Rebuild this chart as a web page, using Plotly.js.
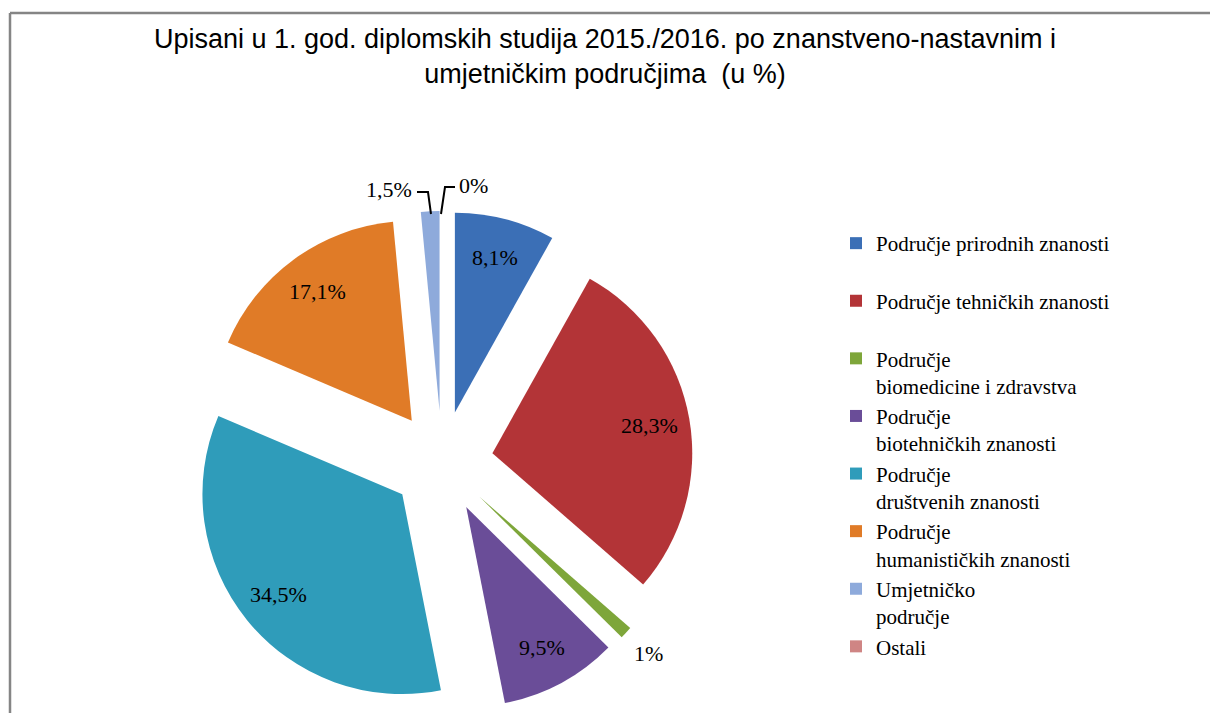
<!DOCTYPE html>
<html>
<head>
<meta charset="utf-8">
<script src="https://cdn.plot.ly/plotly-3.0.1.min.js"></script>
<style>
  html, body { margin: 0; padding: 0; background: #ffffff; overflow: hidden; }
  #chart { width: 1210px; height: 713px; }
</style>
</head>
<body>
<div id="chart"></div>
<script>
// ---- data ----
const categories = [
  "Područje prirodnih znanosti",
  "Područje tehničkih znanosti",
  "Područje<br>biomedicine i zdravstva",
  "Područje<br>biotehničkih znanosti",
  "Područje<br>društvenih znanosti",
  "Područje<br>humanističkih znanosti",
  "Umjetničko<br>područje",
  "Ostali"
];
const values = [8.1, 28.3, 1, 9.5, 34.5, 17.1, 1.5, 0];
const colors = ["#3b6fb6", "#b33437", "#7ea63a", "#6a4d98", "#2f9cba", "#e07b27", "#8eaadb", "#cf8584"];
const title = "Upisani u 1. god. diplomskih studija 2015./2016. po znanstveno-nastavnim i<br>umjetničkim područjima  (u %)";

// ---- derived ----
const labelText = values.map(v => String(v).replace('.', ',') + '%');
// every legend entry occupies two text lines, as in the original legend
const legendLabels = categories.map(l => l.includes('<br>') ? l : l + '<br> ');

const W = 1210, H = 713;
const px = x => x / W;
const py = y => 1 - y / H;
const PULL = 0.256;
const labelFont = { family: 'Liberation Serif, DejaVu Serif, serif', size: 22, color: '#000000' };

const trace = {
  type: 'pie',
  labels: legendLabels,
  values: values,
  text: labelText,
  textinfo: 'none',
  sort: false,
  direction: 'clockwise',
  rotation: 0,
  pull: values.map(() => PULL),
  marker: { colors: colors, line: { width: 0 } },
  domain: { x: [px(191), px(693)], y: [0, py(211)] },
  hoverinfo: 'label+text',
  showlegend: true
};

const baseShapes = [
  // chart frame (top and left edges)
  { type: 'line', xref: 'paper', yref: 'paper', x0: px(10), y0: py(13), x1: 1, y1: py(13), line: { color: '#858585', width: 2.5 } },
  { type: 'line', xref: 'paper', yref: 'paper', x0: px(10), y0: py(13), x1: px(10), y1: 0, line: { color: '#858585', width: 2.5 } },
  // leader lines for the two small labels at the top
  { type: 'path', xref: 'paper', yref: 'paper',
    path: `M ${px(417)} ${py(192)} L ${px(428)} ${py(192)} L ${px(431)} ${py(214)}`,
    line: { color: '#000000', width: 2 } },
  { type: 'path', xref: 'paper', yref: 'paper',
    path: `M ${px(455)} ${py(187)} L ${px(445)} ${py(187)} L ${px(441)} ${py(214)}`,
    line: { color: '#000000', width: 2 } }
];

const layout = {
  width: W,
  height: H,
  margin: { l: 0, r: 0, t: 0, b: 0 },
  paper_bgcolor: '#ffffff',
  title: {
    text: title,
    font: { family: 'Liberation Sans, Arial, sans-serif', size: 27, color: '#000000' },
    x: 0.5, xanchor: 'center',
    xref: 'paper',
    yref: 'container', y: py(48), yanchor: 'top'
  },
  legend: {
    x: px(836), xanchor: 'left',
    y: py(223), yanchor: 'top',
    valign: 'top',
    font: { family: 'Liberation Serif, DejaVu Serif, serif', size: 21, color: '#000000' },
    bgcolor: 'rgba(0,0,0,0)',
    traceorder: 'normal'
  },
  shapes: baseShapes
};

Plotly.newPlot('chart', [trace], layout, { displayModeBar: false }).then(gd => {
  const cd0 = gd.calcdata && gd.calcdata[0] && gd.calcdata[0][0];
  const cx = cd0 && cd0.cx ? cd0.cx : 442;
  const cy = cd0 && cd0.cy ? cd0.cy : 462;
  const r = cd0 && cd0.r ? cd0.r : 200;
  const total = values.reduce((a, b) => a + b, 0);
  const anns = [];
  let cum = 0;
  values.forEach((v, i) => {
    const mid = (cum + v / 2) / total * 2 * Math.PI;
    cum += v;
    const dx = Math.sin(mid), dy = -Math.cos(mid);
    if (v >= 5) {
      const d = r * PULL + 0.8 * r;
      anns.push({ xref: 'paper', yref: 'paper', x: px(cx + dx * d), y: py(cy + dy * d),
        xanchor: 'center', yanchor: 'middle', text: labelText[i], showarrow: false, font: labelFont });
    } else if (i === 2) {
      const d = r * (1 + PULL) + 30;
      anns.push({ xref: 'paper', yref: 'paper', x: px(cx + dx * d), y: py(cy + dy * d),
        xanchor: 'center', yanchor: 'middle', text: labelText[i], showarrow: false, font: labelFont });
    }
  });
  anns.push({ xref: 'paper', yref: 'paper', x: px(414), y: py(189), xanchor: 'right', yanchor: 'middle',
    text: labelText[6], showarrow: false, font: labelFont });
  anns.push({ xref: 'paper', yref: 'paper', x: px(457), y: py(185), xanchor: 'left', yanchor: 'middle',
    text: labelText[7], showarrow: false, font: labelFont });
  return Plotly.relayout(gd, { annotations: anns });
});
</script>
</body>
</html>
